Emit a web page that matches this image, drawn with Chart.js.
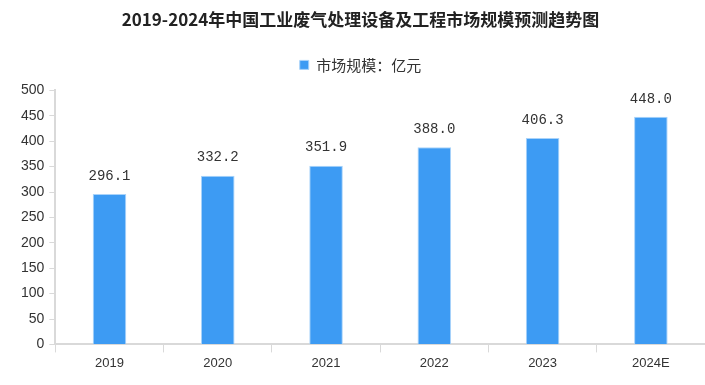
<!DOCTYPE html>
<html>
<head>
<meta charset="utf-8">
<script src="https://cdn.jsdelivr.net/npm/chart.js@4/dist/chart.umd.min.js"></script>
<style>
html,body{margin:0;padding:0;background:#fff;}
#wrap{width:705px;height:385px;position:relative;}
</style>
</head>
<body>
<div id="wrap"><canvas id="c" width="705" height="385"></canvas></div>
<script>
const categories = ["2019", "2020", "2021", "2022", "2023", "2024E"];
const marketSize = [296.1, 332.2, 351.9, 388.0, 406.3, 448.0];
const seriesName = "市场规模：亿元";
const titleText = "2019-2024年中国工业废气处理设备及工程市场规模预测趋势图";
const yTicks = [0, 50, 100, 150, 200, 250, 300, 350, 400, 450, 500];

const valueLabels = {
  id: 'valueLabels',
  beforeLayout(chart) {
    const lg = chart.legend;
    if (lg && !lg._extraSpace) {
      const orig = lg.fit.bind(lg);
      lg.fit = function () { orig(); this.height += 8; };
      lg._extraSpace = true;
    }
  },
  afterDatasetsDraw(chart) {
    const ctx = chart.ctx;
    const meta = chart.getDatasetMeta(0);
    ctx.save();
    ctx.font = '14px "Liberation Mono", "DejaVu Sans Mono", monospace';
    ctx.fillStyle = '#333';
    ctx.textAlign = 'center';
    ctx.textBaseline = 'bottom';
    meta.data.forEach((bar, i) => {
      ctx.fillText(marketSize[i].toFixed(1), bar.x, bar.y - 11);
    });
    ctx.restore();
  }
};

new Chart(document.getElementById('c'), {
  type: 'bar',
  data: {
    labels: categories,
    datasets: [{
      label: seriesName,
      data: marketSize,
      backgroundColor: '#3d9bf3',
      borderColor: '#a9d3fa',
      borderWidth: 1,
      categoryPercentage: 1,
      barPercentage: 0.31
    }]
  },
  options: {
    responsive: false,
    animation: false,
    layout: { padding: { left: 16, right: 0, top: 9, bottom: 11 } },
    plugins: {
      title: {
        display: true,
        text: titleText,
        color: '#222',
        font: { family: '"Noto Sans CJK SC", sans-serif', size: 17, weight: 'bold' },
        padding: { top: 0, bottom: 18 }
      },
      legend: {
        display: true,
        labels: {
          boxWidth: 9,
          boxHeight: 9,
          color: '#333',
          font: { family: '"Noto Sans CJK SC", sans-serif', size: 15 },
          padding: 10
        }
      },
      tooltip: { enabled: false }
    },
    scales: {
      x: {
        grid: {
          display: true,
          drawOnChartArea: false,
          drawTicks: true,
          tickLength: 8,
          color: '#d9d9d9',
          offset: true
        },
        border: { color: '#d9d9d9', width: 2 },
        ticks: {
          color: '#333',
          font: { family: '"Liberation Sans", sans-serif', size: 13 },
          padding: 3
        }
      },
      y: {
        min: 0,
        max: 500,
        afterBuildTicks(axis) { axis.ticks = yTicks.map(v => ({ value: v })); },
        grid: {
          display: true,
          drawOnChartArea: false,
          drawTicks: true,
          tickLength: 6,
          color: '#d9d9d9'
        },
        border: { color: '#d9d9d9', width: 2 },
        ticks: {
          color: '#333',
          font: { family: '"Liberation Sans", sans-serif', size: 14 },
          padding: 5
        }
      }
    }
  },
  plugins: [valueLabels]
});
</script>
</body>
</html>
